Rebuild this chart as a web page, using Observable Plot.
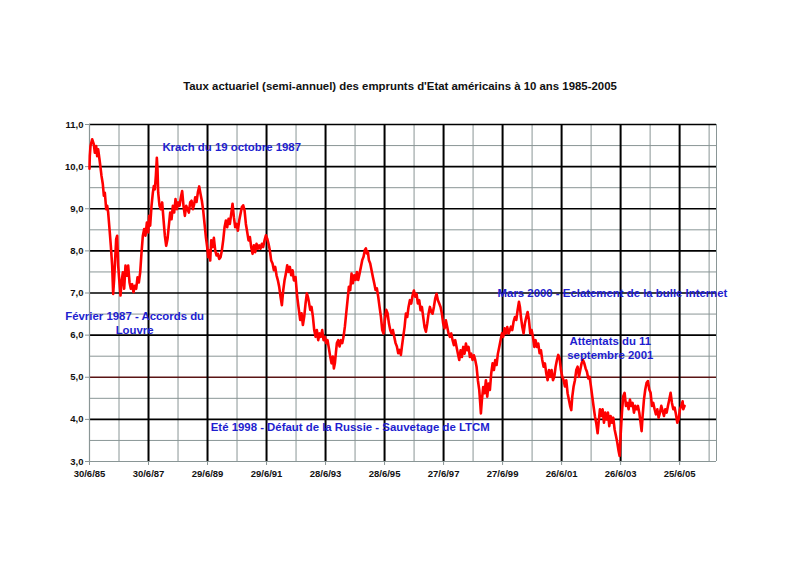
<!DOCTYPE html>
<html>
<head>
<meta charset="utf-8">
<script src="https://cdn.jsdelivr.net/npm/d3@7"></script>
<script src="https://cdn.jsdelivr.net/npm/@observablehq/plot@0.6"></script>
<style>
  html, body { margin: 0; padding: 0; background: #fff; }
  #wrap { width: 800px; position: relative; }
  #title { position: relative; height: 110px; }
  #title span { position: absolute; left: 0; width: 800px; top: 80px; text-align: center;
    font: bold 11.4px "Liberation Sans", Arial, sans-serif; color: #111; }
</style>
</head>
<body>
<div id="wrap">
  <div id="title"><span>Taux actuariel (semi-annuel) des emprunts d'Etat américains à 10 ans 1985-2005</span></div>
  <div id="chart"></div>
</div>
<script>
// ---- data ----
const xTickYears = [1985.5, 1987.5, 1989.5, 1991.5, 1993.5, 1995.5, 1997.5, 1999.5, 2001.5, 2003.5, 2005.5];
const xTickLabels = ["30/6/85", "30/6/87", "29/6/89", "29/6/91", "28/6/93", "28/6/95", "27/6/97", "27/6/99", "26/6/01", "26/6/03", "25/6/05"];
const minorYears = [1986.5, 1988.5, 1990.5, 1992.5, 1994.5, 1996.5, 1998.5, 2000.5, 2002.5, 2004.5, 2006.5];
const yTicks = [3, 4, 5, 6, 7, 8, 9, 10, 11];
const yHalves = [3.5, 4.5, 5.5, 6.5, 7.5, 8.5, 9.5, 10.5];

// annotations anchored at their left edge
const leftNoteLabels = [
  "Krach du 19 octobre 1987",
  "Eté 1998 - Défaut de la Russie - Sauvetage de LTCM",
  "Mars 2000 - Eclatement de la bulle Internet"
];
const leftNoteYears = [1987.97, 1989.61, 1999.33];
const leftNoteRates = [10.45, 3.82, 7.00];
// annotations centred (two lines)
const centerNoteLabels = [
  "Février 1987 - Accords du\nLouvre",
  "Attentats du 11\nseptembre 2001"
];
const centerNoteYears = [1987.03, 2003.15];
const centerNoteRates = [6.30, 5.715];

// [year, rate %]
const rateSeries = [
[1985.500, 9.95],[1985.510, 10.25],[1985.534, 10.49],[1985.590, 10.65],[1985.647, 10.53],[1985.681, 10.33],[1985.726, 10.49],[1985.760, 10.25],[1985.794, 10.41],[1985.839, 10.17],[1985.873, 9.98],[1985.907, 9.78],[1985.952, 9.58],[1985.986, 9.31],[1986.020, 9.38],[1986.065, 8.99],[1986.099, 9.07],[1986.133, 8.91],[1986.178, 8.52],[1986.223, 8.12],[1986.268, 7.65],[1986.302, 6.98],[1986.336, 7.33],[1986.370, 7.81],[1986.404, 8.28],[1986.438, 8.36],[1986.472, 7.65],[1986.506, 7.33],[1986.551, 6.94],[1986.585, 7.25],[1986.630, 7.49],[1986.675, 7.10],[1986.720, 7.65],[1986.766, 7.41],[1986.811, 7.65],[1986.856, 7.25],[1986.901, 7.10],[1986.946, 7.21],[1986.992, 7.02],[1987.037, 7.17],[1987.082, 7.10],[1987.127, 7.37],[1987.172, 7.25],[1987.218, 7.49],[1987.263, 7.96],[1987.308, 8.36],[1987.353, 8.52],[1987.398, 8.36],[1987.444, 8.67],[1987.489, 8.44],[1987.523, 8.83],[1987.556, 8.60],[1987.602, 9.07],[1987.647, 9.38],[1987.681, 9.54],[1987.715, 9.46],[1987.749, 9.78],[1987.782, 10.21],[1987.805, 9.94],[1987.828, 9.38],[1987.873, 9.07],[1987.918, 8.99],[1987.963, 9.15],[1988.008, 8.75],[1988.054, 8.36],[1988.099, 8.12],[1988.144, 8.28],[1988.189, 8.60],[1988.234, 8.91],[1988.280, 8.75],[1988.325, 9.07],[1988.370, 8.91],[1988.415, 9.23],[1988.460, 8.99],[1988.506, 9.15],[1988.551, 9.07],[1988.596, 9.27],[1988.641, 9.42],[1988.686, 9.07],[1988.732, 8.83],[1988.777, 9.07],[1988.822, 8.99],[1988.867, 8.91],[1988.912, 9.15],[1988.958, 9.19],[1989.003, 8.99],[1989.048, 9.11],
[1989.082, 9.27],[1989.127, 9.16],[1989.173, 9.39],[1989.218, 9.53],[1989.263, 9.35],[1989.308, 9.19],[1989.353, 8.96],[1989.399, 8.64],[1989.444, 8.33],[1989.489, 8.09],[1989.523, 7.85],[1989.557, 8.01],[1989.591, 7.77],[1989.625, 8.25],[1989.670, 8.09],[1989.715, 8.31],[1989.760, 8.01],[1989.805, 7.89],[1989.851, 7.93],[1989.896, 7.81],[1989.941, 7.85],[1989.986, 8.01],[1990.031, 8.25],[1990.077, 8.56],[1990.122, 8.72],[1990.167, 8.56],[1990.212, 8.76],[1990.257, 8.64],[1990.303, 8.88],[1990.348, 9.12],[1990.393, 8.80],[1990.438, 8.56],[1990.483, 8.64],[1990.529, 8.48],[1990.574, 8.72],[1990.619, 8.88],[1990.664, 9.04],[1990.709, 9.08],[1990.755, 8.96],[1990.800, 8.64],[1990.845, 8.45],[1990.890, 8.25],[1990.935, 8.33],[1990.980, 8.09],[1991.026, 7.93],[1991.071, 8.13],[1991.116, 7.97],[1991.161, 8.17],[1991.206, 8.05],[1991.252, 8.13],[1991.297, 8.05],[1991.342, 8.17],[1991.387, 8.09],[1991.432, 8.25],[1991.478, 8.37],[1991.523, 8.29],[1991.568, 8.17],[1991.613, 8.01],[1991.658, 7.77],[1991.704, 7.70],[1991.749, 7.54],[1991.794, 7.62],[1991.839, 7.42],[1991.884, 7.30],[1991.930, 7.14],[1991.975, 6.91],[1992.020, 6.71],[1992.065, 7.06],[1992.110, 7.30],[1992.156, 7.46],[1992.201, 7.66],[1992.246, 7.50],[1992.291, 7.62],[1992.336, 7.42],[1992.382, 7.54],[1992.427, 7.30],
[1992.483, 7.38],[1992.539, 6.91],[1992.596, 6.60],[1992.641, 6.36],[1992.686, 6.52],[1992.732, 6.24],[1992.777, 6.44],[1992.822, 6.75],[1992.867, 6.99],[1992.901, 6.91],[1992.935, 6.79],[1992.980, 6.60],[1993.025, 6.67],[1993.071, 6.44],[1993.116, 6.12],[1993.161, 5.96],[1993.206, 6.12],[1993.251, 5.88],[1993.297, 6.04],[1993.342, 5.96],[1993.387, 6.12],[1993.432, 5.88],[1993.477, 5.96],[1993.523, 5.81],[1993.568, 5.88],[1993.613, 5.69],[1993.658, 5.49],[1993.703, 5.33],[1993.749, 5.49],[1993.782, 5.21],[1993.816, 5.33],[1993.850, 5.57],[1993.884, 5.81],[1993.929, 5.88],[1993.975, 5.73],[1994.020, 5.88],[1994.065, 5.81],[1994.110, 5.96],[1994.155, 6.20],[1994.201, 6.52],[1994.246, 6.83],[1994.291, 7.15],[1994.336, 7.07],[1994.381, 7.46],[1994.427, 7.23],[1994.472, 7.42],[1994.517, 7.31],[1994.562, 7.50],[1994.607, 7.31],[1994.652, 7.46],[1994.698, 7.62],[1994.743, 7.78],[1994.788, 7.86],[1994.833, 8.02],[1994.867, 8.06],[1994.901, 7.94],[1994.935, 7.98],[1994.969, 7.78],[1995.014, 7.70],[1995.059, 7.54],[1995.104, 7.38],[1995.150, 7.23],[1995.195, 7.07],[1995.240, 7.11],[1995.285, 6.91],[1995.330, 6.67],[1995.376, 6.44],[1995.421, 6.12],[1995.466, 6.04],[1995.511, 6.36],[1995.556, 6.60],[1995.602, 6.52],[1995.647, 6.28],[1995.692, 6.12],[1995.737, 6.04],[1995.782, 6.12],[1995.828, 5.96],[1995.873, 5.81],[1995.918, 5.73],[1995.963, 5.57],[1996.008, 5.65],[1996.054, 5.53],
[1996.087, 5.72],[1996.132, 5.96],[1996.178, 6.19],[1996.223, 6.51],[1996.268, 6.43],[1996.313, 6.67],[1996.358, 6.83],[1996.404, 6.75],[1996.449, 6.94],[1996.494, 7.06],[1996.539, 6.91],[1996.584, 6.98],[1996.630, 6.75],[1996.675, 6.83],[1996.720, 6.59],[1996.765, 6.67],[1996.810, 6.43],[1996.856, 6.19],[1996.901, 6.08],[1996.946, 6.27],[1996.991, 6.51],[1997.036, 6.67],[1997.082, 6.55],[1997.127, 6.51],[1997.172, 6.67],[1997.217, 6.87],[1997.262, 6.98],[1997.308, 6.83],[1997.353, 6.75],[1997.398, 6.67],[1997.443, 6.51],[1997.488, 6.27],[1997.534, 6.16],[1997.579, 6.35],[1997.624, 6.19],[1997.669, 6.04],[1997.714, 5.96],[1997.760, 6.04],[1997.805, 5.88],[1997.850, 5.76],[1997.895, 5.88],[1997.940, 5.72],[1997.986, 5.56],[1998.031, 5.41],[1998.076, 5.64],[1998.121, 5.48],[1998.166, 5.72],[1998.211, 5.56],[1998.257, 5.80],[1998.302, 5.64],[1998.347, 5.72],[1998.392, 5.48],[1998.437, 5.56],[1998.483, 5.41],[1998.528, 5.52],[1998.573, 5.41],[1998.618, 5.25],[1998.663, 4.93],[1998.709, 4.70],[1998.743, 4.38],[1998.765, 4.14],[1998.799, 4.46],[1998.844, 4.77],[1998.889, 4.62],[1998.935, 4.93],[1998.980, 4.54],[1999.025, 4.85],[1999.070, 4.70],[1999.115, 5.09],[1999.161, 5.33],[1999.206, 5.17],[1999.251, 5.41],[1999.296, 5.29],[1999.341, 5.56],[1999.387, 5.72],[1999.432, 5.88],[1999.477, 6.04],[1999.522, 5.96],[1999.567, 6.16],[1999.613, 6.04],[1999.658, 6.19],[1999.703, 6.04],[1999.748, 6.12],
[1999.783, 6.20],[1999.828, 6.12],[1999.873, 6.32],[1999.918, 6.43],[1999.964, 6.36],[2000.009, 6.59],[2000.054, 6.79],[2000.088, 6.67],[2000.122, 6.43],[2000.167, 6.20],[2000.212, 6.04],[2000.257, 6.28],[2000.303, 6.43],[2000.348, 6.55],[2000.393, 6.36],[2000.438, 6.04],[2000.483, 6.12],[2000.529, 5.96],[2000.574, 5.72],[2000.619, 5.88],[2000.664, 5.72],[2000.709, 5.80],[2000.755, 5.57],[2000.800, 5.64],[2000.845, 5.41],[2000.890, 5.25],[2000.935, 5.33],[2000.981, 5.09],[2001.026, 4.93],[2001.071, 5.17],[2001.116, 5.01],[2001.161, 5.17],[2001.207, 4.93],[2001.252, 5.01],[2001.297, 5.25],[2001.342, 5.41],[2001.387, 5.53],[2001.433, 5.45],[2001.478, 5.17],[2001.523, 5.01],[2001.568, 4.93],[2001.613, 4.78],[2001.658, 4.93],[2001.704, 4.62],[2001.749, 4.46],[2001.794, 4.30],[2001.828, 4.22],[2001.862, 4.54],[2001.907, 4.78],[2001.952, 4.93],[2001.997, 5.17],[2002.043, 5.25],[2002.088, 5.01],[2002.133, 5.17],[2002.178, 5.33],[2002.223, 5.41],[2002.269, 5.33],[2002.314, 5.21],[2002.359, 5.13],[2002.404, 4.97],[2002.449, 5.01],[2002.495, 4.78],[2002.540, 4.54],[2002.585, 4.30],[2002.630, 4.07],[2002.675, 3.91],[2002.721, 3.67],
[2002.754, 3.92],[2002.799, 4.24],[2002.845, 4.08],[2002.890, 4.24],[2002.935, 3.92],[2002.980, 4.16],[2003.025, 4.00],[2003.071, 4.16],[2003.116, 3.84],[2003.161, 4.08],[2003.206, 3.92],[2003.251, 4.04],[2003.297, 3.76],[2003.342, 3.61],[2003.387, 3.45],[2003.432, 3.25],[2003.466, 3.13],[2003.500, 3.61],[2003.545, 4.16],[2003.590, 4.55],[2003.636, 4.63],[2003.681, 4.32],[2003.726, 4.39],[2003.771, 4.24],[2003.816, 4.47],[2003.862, 4.32],[2003.907, 4.39],[2003.952, 4.16],[2003.997, 4.32],[2004.042, 4.24],[2004.088, 4.32],[2004.133, 4.16],[2004.178, 3.92],[2004.212, 3.72],[2004.246, 4.08],[2004.291, 4.47],[2004.336, 4.71],[2004.381, 4.87],[2004.426, 4.91],[2004.472, 4.71],[2004.517, 4.63],[2004.562, 4.32],[2004.607, 4.39],[2004.652, 4.24],[2004.698, 4.12],[2004.743, 4.24],[2004.788, 4.04],[2004.833, 4.16],[2004.878, 4.32],[2004.924, 4.20],[2004.969, 4.08],[2005.014, 4.24],[2005.059, 4.16],[2005.104, 4.32],[2005.150, 4.47],[2005.195, 4.63],[2005.240, 4.39],[2005.285, 4.24],[2005.330, 4.28],[2005.376, 4.12],[2005.421, 3.92],[2005.466, 4.00],[2005.511, 4.24],[2005.556, 4.32],[2005.602, 4.43],[2005.624, 4.24],[2005.669, 4.32]
];

const leftNotes = leftNoteLabels.map((label, i) => ({ label, year: leftNoteYears[i], rate: leftNoteRates[i] }));
const centerNotes = centerNoteLabels.map((label, i) => ({ label, year: centerNoteYears[i], rate: centerNoteRates[i] }));

const gridGray = "#8a9696";
const blue = "#1e1ecf";

const chart = Plot.plot({
  width: 800,
  height: 455,
  marginTop: 14,
  marginLeft: 89,
  marginRight: 84,
  marginBottom: 104,
  style: { fontFamily: "'Liberation Sans', Arial, sans-serif", fontSize: "9.5px", fontWeight: "bold", background: "#fff", color: "#111" },
  x: { type: "linear", domain: [1985.5, 2006.75], label: null },
  y: { domain: [3, 11], label: null },
  marks: [
    Plot.ruleY(yHalves, { stroke: gridGray, strokeWidth: 1 }),
    Plot.ruleX(minorYears, { stroke: gridGray, strokeWidth: 1 }),
    Plot.ruleX([2006.75], { stroke: gridGray, strokeWidth: 1 }),
    Plot.ruleY(yTicks.filter(d => d !== 3 && d !== 5), { stroke: "#000", strokeWidth: 1.6 }),
    Plot.ruleY([5], { stroke: "#5a1414", strokeWidth: 1.4 }),
    Plot.ruleY([3], { stroke: gridGray, strokeWidth: 1.2 }),
    Plot.ruleX(xTickYears.slice(1), { stroke: "#000", strokeWidth: 2 }),
    Plot.ruleX([xTickYears[0]], { stroke: gridGray, strokeWidth: 1.2 }),
    Plot.axisY({ ticks: yTicks, tickSize: 4, tickPadding: 2, stroke: gridGray, fill: "#111", label: null,
      tickFormat: d => d.toFixed(1).replace(".", ",") }),
    Plot.axisX({ ticks: xTickYears, tickSize: 4, tickPadding: 5, stroke: gridGray, fill: "#111", label: null,
      tickFormat: d => xTickLabels[xTickYears.indexOf(d)] }),
    Plot.line(rateSeries, { x: d => d[0], y: d => d[1], stroke: "#ff0000", strokeWidth: 2.6, strokeLinejoin: "round" }),
    Plot.text(leftNotes, { x: "year", y: "rate", text: "label", textAnchor: "start",
      fill: blue, fontSize: 11.4, fontWeight: "bold", lineAnchor: "middle" }),
    Plot.text(centerNotes, { x: "year", y: "rate", text: "label", textAnchor: "middle",
      fill: blue, fontSize: 11.4, fontWeight: "bold", lineHeight: 1.25, lineAnchor: "middle" })
  ]
});
document.getElementById("chart").appendChild(chart);
</script>
</body>
</html>
